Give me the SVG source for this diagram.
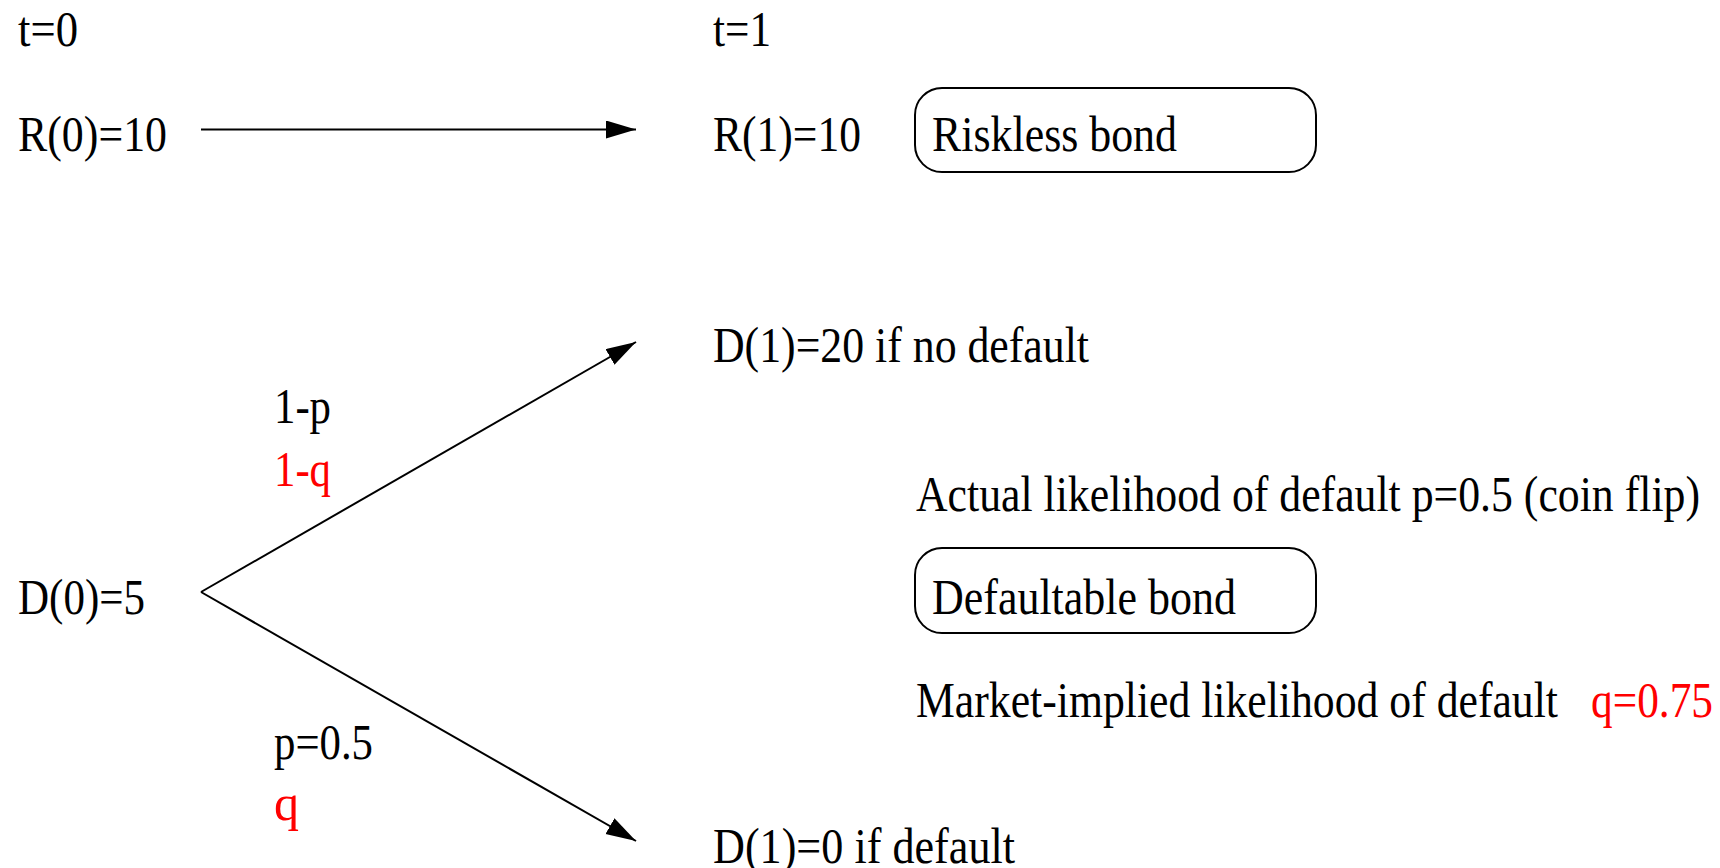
<svg xmlns="http://www.w3.org/2000/svg" width="1720" height="868" viewBox="0 0 1720 868">
<style>
text{font-family:"Liberation Serif","Times New Roman",serif;font-size:50px;fill:#000}
.red{fill:#ff0000}
.box{fill:none;stroke:#000;stroke-width:2}
.conn{stroke:#000;stroke-width:2;fill:none}
</style>
<defs>
<marker id="ah" markerUnits="userSpaceOnUse" markerWidth="32" markerHeight="20" refX="30" refY="9" orient="auto">
<path d="M0,0 L30,9 L0,18 z" fill="#000"/>
</marker>
</defs>
<rect width="1720" height="868" fill="#fff"/>
<g id="labels">
<text x="18" y="46" textLength="60" lengthAdjust="spacingAndGlyphs">t=0</text>
<text x="713" y="46" textLength="58" lengthAdjust="spacingAndGlyphs">t=1</text>
</g>
<g id="R0"><text x="18" y="151" textLength="149" lengthAdjust="spacingAndGlyphs">R(0)=10</text></g>
<g id="R1"><text x="713" y="151" textLength="148" lengthAdjust="spacingAndGlyphs">R(1)=10</text></g>
<g id="riskless">
<rect class="box" x="915" y="88" width="401" height="84" rx="27"/>
<text x="932" y="151" textLength="245" lengthAdjust="spacingAndGlyphs">Riskless bond</text>
</g>
<g id="D1up"><text x="713" y="362" textLength="376" lengthAdjust="spacingAndGlyphs">D(1)=20 if no default</text></g>
<g id="D0"><text x="18" y="614" textLength="127" lengthAdjust="spacingAndGlyphs">D(0)=5</text></g>
<g id="D1down"><text x="713" y="863" textLength="302" lengthAdjust="spacingAndGlyphs">D(1)=0 if default</text></g>
<g id="defaultable">
<rect class="box" x="915" y="548" width="401" height="85" rx="27"/>
<text x="932" y="614" textLength="304" lengthAdjust="spacingAndGlyphs">Defaultable bond</text>
</g>
<g id="notes">
<text x="916" y="511" textLength="784" lengthAdjust="spacingAndGlyphs">Actual likelihood of default p=0.5 (coin flip)</text>
<text x="916" y="717" textLength="642" lengthAdjust="spacingAndGlyphs">Market-implied likelihood of default</text>
<text class="red" x="1591" y="717" textLength="122" lengthAdjust="spacingAndGlyphs">q=0.75</text>
</g>
<g id="probs">
<text x="274" y="423" textLength="57" lengthAdjust="spacingAndGlyphs">1-p</text>
<text class="red" x="274" y="486" textLength="57" lengthAdjust="spacingAndGlyphs">1-q</text>
<text x="274" y="759" textLength="99" lengthAdjust="spacingAndGlyphs">p=0.5</text>
<text class="red" x="274" y="820">q</text>
</g>
<g id="connectors">
<line class="conn" x1="201" y1="129.5" x2="636" y2="129.5" marker-end="url(#ah)"/>
<line class="conn" x1="201" y1="592" x2="636" y2="342" marker-end="url(#ah)"/>
<line class="conn" x1="201" y1="592" x2="636" y2="841" marker-end="url(#ah)"/>
</g>
</svg>
